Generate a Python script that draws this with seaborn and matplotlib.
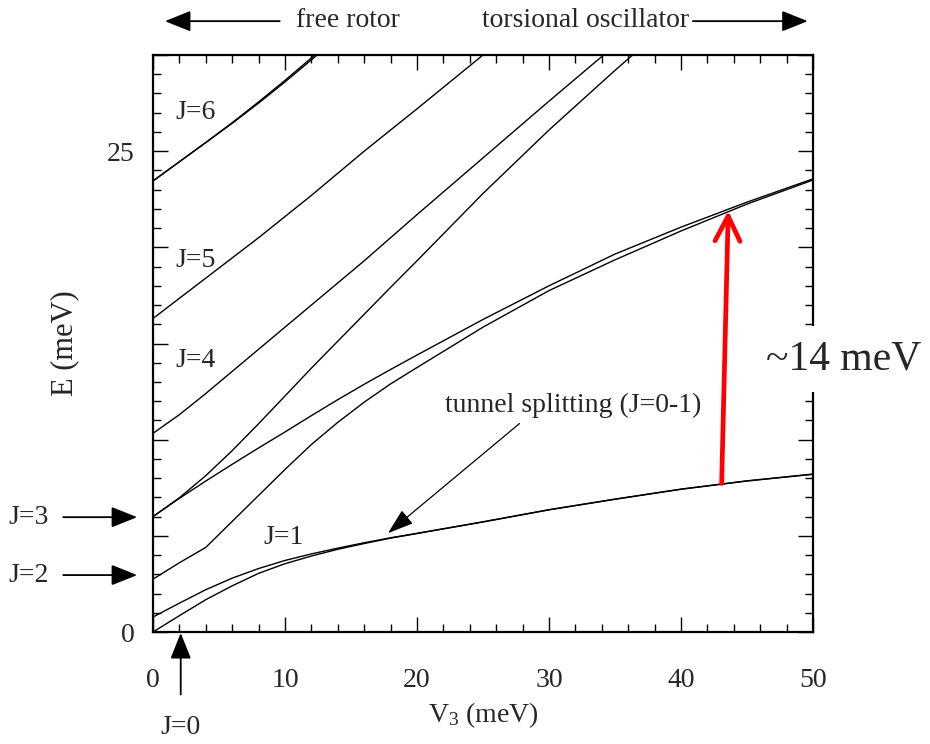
import numpy as np
import pandas as pd
import matplotlib
matplotlib.use("Agg")
import matplotlib.pyplot as plt
from matplotlib.ticker import MultipleLocator, FuncFormatter
import seaborn as sns

# ---- data ----
v3 = [0, 2, 4, 6, 8, 10, 12, 14, 16, 18, 20, 25, 30, 35, 40, 45, 50]
e_j0 = [0.0, 0.85, 1.68, 2.4, 3.05, 3.55, 3.95, 4.3, 4.6, 4.88, 5.12, 5.72, 6.35, 6.9, 7.42, 7.85, 8.2]
e_j1 = [0.78, 1.5, 2.2, 2.8, 3.3, 3.72, 4.06, 4.36, 4.64, 4.9, 5.13, 5.73, 6.36, 6.91, 7.43, 7.86, 8.21]
e_j2 = [2.75, 3.6, 4.4, 5.75, 7.1, 8.45, 9.75, 10.9, 11.95, 12.9, 13.75, 15.85, 17.75, 19.35, 20.85, 22.25, 23.5]
e_j3a = [6.0, 6.95, 7.85, 8.72, 9.57, 10.4, 11.25, 12.08, 12.88, 13.65, 14.4, 16.25, 18.0, 19.65, 21.05, 22.35, 23.56]
e_j3b = [6.0, 6.98, 8.13, 9.43, 10.83, 12.27, 13.72, 15.12, 16.52, 17.92, 19.3, 22.8, 26.1, 29.2, 32.2, 35.1, 38.0]
e_j4 = [10.33, 11.3, 12.4, 13.55, 14.7, 15.85, 17.0, 18.15, 19.3, 20.5, 21.7, 24.65, 27.6, 30.5, 33.4, 36.3, 39.2]
e_j5 = [16.3, 17.35, 18.4, 19.45, 20.5, 21.6, 22.7, 23.85, 25.0, 26.1, 27.2, 30.0, 33.0, 36.0, 39.0, 42.0, 45.0]
e_j6a = [23.45, 24.45, 25.45, 26.45, 27.5, 28.6, 29.75, 30.9, 32.0, 33.1, 34.2, 37.0, 40.0, 43.0, 46.0, 49.0, 52.0]
e_j6b = [23.45, 24.45, 25.45, 26.48, 27.56, 28.68, 29.85, 31.0, 32.1, 33.2, 34.3, 37.1, 40.1, 43.1, 46.1, 49.1, 52.1]

series = {"J0": e_j0, "J1": e_j1, "J2": e_j2, "J3a": e_j3a, "J3b": e_j3b,
          "J4": e_j4, "J5": e_j5, "J6a": e_j6a, "J6b": e_j6b}

df = pd.concat([pd.DataFrame({"V3": v3, "E": vals, "level": name})
                for name, vals in series.items()], ignore_index=True)

sns.set_theme(style="ticks")
plt.rcParams["font.family"] = ["Liberation Serif", "DejaVu Serif"]
plt.rcParams["mathtext.fontset"] = "custom"
plt.rcParams["mathtext.rm"] = "Liberation Serif"

fig = plt.figure(figsize=(9.3, 7.44), dpi=100)
ax = fig.add_axes([153/930, 1-632/744, 660/930, 577/744])

sns.lineplot(data=df, x="V3", y="E", units="level", estimator=None,
             color="black", lw=1.0, ax=ax, legend=False)

ax.set_xlim(0, 50)
ax.set_ylim(0, 30)
ax.xaxis.set_major_locator(MultipleLocator(10))
ax.xaxis.set_minor_locator(MultipleLocator(2))
ax.yaxis.set_major_locator(MultipleLocator(5))
ax.yaxis.set_minor_locator(MultipleLocator(1))
ax.yaxis.set_major_formatter(FuncFormatter(lambda v, p: f"{v:g}" if v in (0, 25) else ""))
ax.tick_params(which="both", direction="in", top=True, right=True, width=1.0, color="black")
ax.tick_params(which="major", length=11)
ax.tick_params(which="minor", length=6)
ax.tick_params(axis="x", which="major", labelsize=20, pad=26)
ax.tick_params(axis="y", which="major", labelsize=20, pad=13)
for s in ax.spines.values():
    s.set_linewidth(1.6)
    s.set_color("black")

ax.set_xlabel(r"$\mathregular{V_3}$ (meV)", fontsize=20)
ax.set_ylabel("E (meV)", fontsize=22)
ax.xaxis.set_label_coords(0.5, -0.118)
ax.yaxis.set_label_coords(-0.112, 0.5)

# level labels inside the plot
for txt, x, y in [("J=6", 3.2, 27.0), ("J=5", 3.2, 19.3), ("J=4", 3.2, 14.1), ("J=1", 9.9, 4.9)]:
    ax.text(x, y, txt, fontsize=20, ha="center", va="center")

black_head = dict(arrowstyle="-|>,head_length=0.8,head_width=0.32", color="black",
                  lw=1.3, mutation_scale=20, shrinkA=0, shrinkB=0)
# left-side J labels with arrows
ax.annotate("", xy=(-1.2, 5.97), xytext=(-6.8, 5.97), arrowprops=black_head, annotation_clip=False)
ax.annotate("", xy=(-1.2, 2.96), xytext=(-6.8, 2.96), arrowprops=black_head, annotation_clip=False)
ax.text(-9.4, 5.97, "J=3", fontsize=20, ha="center", va="center", clip_on=False)
ax.text(-9.4, 2.96, "J=2", fontsize=20, ha="center", va="center", clip_on=False)
ax.annotate("", xy=(2.1, -0.05), xytext=(2.1, -3.25), arrowprops=black_head, annotation_clip=False)
ax.text(2.1, -4.95, "J=0", fontsize=20, ha="center", va="center", clip_on=False)

# top labels
ax.annotate("", xy=(0.9, 31.76), xytext=(9.6, 31.76), arrowprops=black_head, annotation_clip=False)
ax.text(14.8, 31.8, "free rotor", fontsize=20, ha="center", va="center", clip_on=False)
ax.text(32.8, 31.8, "torsional oscillator", fontsize=20, ha="center", va="center", clip_on=False)
ax.annotate("", xy=(49.6, 31.76), xytext=(40.9, 31.76), arrowprops=black_head, annotation_clip=False)

# tunnel splitting annotation
ax.annotate("tunnel splitting (J=0-1)", xy=(17.8, 5.14), xytext=(31.8, 11.8),
            fontsize=20, ha="center", va="center",
            arrowprops=dict(arrowstyle="-|>,head_length=0.9,head_width=0.3", color="black",
                            lw=0.9, mutation_scale=18, shrinkA=3, shrinkB=0,
                            relpos=(0.32, 0.0)))

# red arrow
ax.annotate("", xy=(43.58, 21.9), xytext=(43.08, 7.72),
            arrowprops=dict(arrowstyle="->,head_length=0.9,head_width=0.45", color="red",
                            lw=3.4, mutation_scale=20, shrinkA=0, shrinkB=0),
            annotation_clip=False, zorder=6)
ax.text(52.3, 14.2, "~14 meV", fontsize=30, ha="center", va="center", clip_on=False,
        zorder=10, bbox=dict(facecolor="white", edgecolor="none", pad=10))

fig.savefig("out.png", dpi=100)
